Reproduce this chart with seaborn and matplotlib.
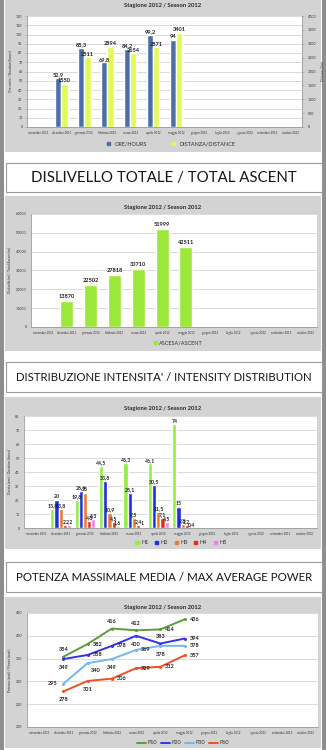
import numpy as np
import pandas as pd
import matplotlib
matplotlib.use("Agg")
import matplotlib.pyplot as plt
from matplotlib.patches import Rectangle
from matplotlib.lines import Line2D
import seaborn as sns

# ---- data -------------------------------------------------------------
mesi = ["novembre 2011", "dicembre 2011", "gennaio 2012", "febbraio 2012",
        "marzo 2012", "aprile 2012", "maggio 2012", "giugno 2012",
        "luglio 2012", "agosto 2012", "settembre 2012", "ottobre 2012"]
mesi_dati = mesi[1:7]

ore = [52.9, 85.3, 69.8, 84.2, 99.2, 94]
distanza = [1550, 2511, 2894, 2654, 2871, 3401]

ascesa = [13870, 22502, 27818, 30710, 51999, 42511]

h1 = [13.8, 19.8, 44.5, 46.3, 46.1, 74]
h2 = [20, 26.4, 33.8, 25.1, 30.5, 15]
h3 = [13.8, 25, 10.9, 7.5, 11.5, 2.8]
h4 = [2.0, 4.8, 4.5, 2.4, 7.1, 2.2]
h5 = [2.2, 6.3, 1.6, 1.0, 4.5, 0.4]

p10 = [354, 382, 416, 412, 414, 436]
p20 = [349, 358, 378, 400, 383, 394]
p30 = [295, 340, 349, 369, 378, 378]
p60 = [278, 301, 306, 329, 332, 357]

titolo = "Stagione 2012 / Season 2012"
intestazioni = ["DISLIVELLO TOTALE / TOTAL ASCENT",
                "DISTRIBUZIONE INTENSITA' / INTENSITY DISTRIBUTION",
                "POTENZA MASSIMALE MEDIA / MAX AVERAGE POWER"]

# ---- style --------------------------------------------------------------
sns.set_style("white")
plt.rcParams["font.family"] = ["Lato", "DejaVu Sans"]

W, H = 326, 750
fig = plt.figure(figsize=(W / 100, H / 100), dpi=100)
fig.patch.set_facecolor("white")


def fx(x):
    return x / W


def fy(y):
    return 1 - y / H


def rect_px(x0, y0, x1, y1, **kw):
    fig.patches.append(Rectangle((fx(x0), fy(y1)), (x1 - x0) / W, (y1 - y0) / H,
                                 transform=fig.transFigure, **kw))


def axes_px(x0, y0, x1, y1):
    ax = fig.add_axes([fx(x0), fy(y1), (x1 - x0) / W, (y1 - y0) / H])
    ax.set_zorder(5)
    return ax


def fmt(v):
    return ("%g" % v).replace(".", ",")


PANEL = "#d3d3d3"
GRID = "#d6d6d6"
TXT = "#303030"

# page frame and panel backgrounds
rect_px(0, 0, 4, H, facecolor="#8e8e8e", edgecolor="none", zorder=-2)
rect_px(322, 0, W, H, facecolor="#8e8e8e", edgecolor="none", zorder=-2)
for (y0, y1) in [(0, 152), (196, 351), (397, 549), (597, 748)]:
    rect_px(5, y0, 321, y1, facecolor=PANEL, edgecolor="none", zorder=-2)

# section headers
header_boxes = [(163, 192), (362, 392), (562, 592)]
header_widths = [265, 297, 298]
header_texts = []
for (y0, y1), txt in zip(header_boxes, intestazioni):
    rect_px(6, y0, 322, y1, facecolor="white", edgecolor="#9a9a9a",
            linewidth=0.8, zorder=-1)
    t = fig.text(fx(164), fy((y0 + y1) / 2 + 0.5), txt, ha="center", va="center",
                 fontsize=12, color="#161616", zorder=2)
    header_texts.append(t)


def style_axes(ax, ylim, step):
    ax.set_facecolor("white")
    ax.set_xlim(-0.5, 11.5)
    ax.set_ylim(*ylim)
    ax.set_yticks(np.arange(ylim[0], ylim[1] + step / 2, step))
    ax.yaxis.grid(True, color=GRID, linewidth=0.6)
    ax.set_axisbelow(True)
    for s in ["top", "right"]:
        ax.spines[s].set_visible(False)
    for s in ["left", "bottom"]:
        ax.spines[s].set_color("#9a9a9a")
        ax.spines[s].set_linewidth(0.6)
    ax.set_xticks(range(12))
    ax.set_xticklabels(mesi)
    ax.tick_params(axis="x", labelsize=2.1, colors="#9a9a9a", labelcolor=TXT,
                   length=1.2, width=0.4, pad=1.8)
    ax.tick_params(axis="y", labelsize=2.6, colors="#9a9a9a", labelcolor=TXT,
                   length=1.2, width=0.4, pad=2)
    ax.set_xlabel("")


def panel_title(y):
    fig.text(fx(163), fy(y), titolo, ha="center", va="center",
             fontsize=4.2, fontweight="bold", color="#262626")


# ---- panel 1: hours and distance -----------------------------------------
serie1 = ["ORE/HOURS", "DISTANZA/DISTANCE"]
col1 = {"ORE/HOURS": "#4d6ea8", "DISTANZA/DISTANCE": "#e2f95a"}
df_ore = pd.DataFrame({"mese": mesi_dati, "serie": serie1[0], "valore": ore})
df_dist = pd.DataFrame({"mese": mesi_dati, "serie": serie1[1], "valore": distanza})

ax1 = axes_px(27, 16, 302, 127)
sns.barplot(data=df_ore, x="mese", y="valore", hue="serie", hue_order=serie1,
            order=mesi, palette=col1, width=0.55, dodge=True, saturation=1,
            errorbar=None, legend=False, ax=ax1)
style_axes(ax1, (0, 120), 10)
ax1.set_ylabel("Ore nette / Duration (hours)", fontsize=2.4, color=TXT, labelpad=3)
ax1b = ax1.twinx()
ax1b.set_zorder(6)
sns.barplot(data=df_dist, x="mese", y="valore", hue="serie", hue_order=serie1,
            order=mesi, palette=col1, width=0.55, dodge=True, saturation=1,
            errorbar=None, legend=False, ax=ax1b)
ax1b.set_ylim(0, 4000)
ax1b.set_yticks(np.arange(0, 4001, 500))
ax1b.set_ylabel("Distanza (km)", fontsize=2.4, color=TXT, labelpad=3)
ax1b.tick_params(axis="y", labelsize=2.6, colors="#9a9a9a", labelcolor=TXT,
                 length=1.2, width=0.4, pad=3)
for s in ["top", "left", "bottom"]:
    ax1b.spines[s].set_visible(False)
ax1b.spines["right"].set_color("#9a9a9a")
ax1b.spines["right"].set_linewidth(0.6)
ax1b.set_xlabel("")
# hour labels are written on the upper (twin) axes so the distance bars
# do not cover them, but positioned in the hour axes' coordinates
for cont in ax1.containers:
    for bar, v in zip(cont.patches, cont.datavalues):
        ax1b.annotate(fmt(v), (bar.get_x() + bar.get_width() / 2, v),
                      xycoords=ax1.transData, xytext=(0, 0.5),
                      textcoords="offset points", ha="center", va="bottom",
                      fontsize=4.1, fontweight="bold", color="#202020")
for cont in ax1b.containers:
    ax1b.bar_label(cont, labels=[fmt(v) for v in cont.datavalues], fontsize=4.1,
                   fontweight="bold", color="#202020", padding=0.5)
panel_title(6)
fig.legend(handles=[Rectangle((0, 0), 1, 1, color=col1[s]) for s in serie1],
           labels=serie1, loc="center", bbox_to_anchor=(fx(171), fy(144)),
           ncol=2, frameon=False, fontsize=4, handlelength=0.6, handleheight=0.6,
           columnspacing=4.5, handletextpad=0.8, labelcolor=TXT)

# ---- panel 2: total ascent -----------------------------------------------
df_asc = pd.DataFrame({"mese": mesi_dati, "valore": ascesa})
ax2 = axes_px(31, 214, 317, 327)
sns.barplot(data=df_asc, x="mese", y="valore", order=mesi, color="#9ce83a",
            width=0.55, saturation=1, errorbar=None, ax=ax2)
style_axes(ax2, (0, 60000), 10000)
ax2.set_ylabel("Dislivello (m) / Total Ascent (m)", fontsize=2.4, color=TXT, labelpad=3)
for cont in ax2.containers:
    ax2.bar_label(cont, labels=[fmt(v) for v in cont.datavalues], fontsize=4.1,
                  fontweight="bold", color="#202020", padding=1.5)
panel_title(207)
fig.legend(handles=[Rectangle((0, 0), 1, 1, color="#9ce83a")],
           labels=["ASCESA/ASCENT"], loc="center", bbox_to_anchor=(fx(178), fy(343)),
           frameon=False, fontsize=4, handlelength=0.6, handleheight=0.6,
           handletextpad=0.3, labelcolor=TXT)

# ---- panel 3: intensity distribution -------------------------------------
serie3 = ["H1", "H2", "H3", "H4", "H5"]
col3 = {"H1": "#8ff03e", "H2": "#1f2fe0", "H3": "#ec7a2c", "H4": "#e2300f", "H5": "#f27ef2"}
df_int = pd.DataFrame({
    "mese": mesi_dati * 5,
    "serie": [s for s in serie3 for _ in mesi_dati],
    "valore": h1 + h2 + h3 + h4 + h5,
})
ax3 = axes_px(24, 416, 317, 528)
sns.barplot(data=df_int, x="mese", y="valore", hue="serie", hue_order=serie3,
            order=mesi, palette=col3, width=0.85, saturation=1, errorbar=None,
            legend=False, ax=ax3)
style_axes(ax3, (0, 80), 10)
ax3.set_ylabel("Durata (ore) / Duration (hours)", fontsize=2.4, color=TXT, labelpad=3)
for cont in ax3.containers:
    ax3.bar_label(cont, labels=[fmt(v) for v in cont.datavalues], fontsize=3.7,
                  fontweight="bold", color="#202020", padding=0.5)
panel_title(408)
fig.legend(handles=[Rectangle((0, 0), 1, 1, color=col3[s]) for s in serie3],
           labels=serie3, loc="center", bbox_to_anchor=(fx(181), fy(543)),
           ncol=5, frameon=False, fontsize=4, handlelength=0.6, handleheight=0.6,
           columnspacing=1.2, handletextpad=0.4, labelcolor=TXT)

# ---- panel 4: max average power ------------------------------------------
serie4 = ["P10", "P20", "P30", "P60"]
col4 = {"P10": "#5c9c3c", "P20": "#3434e4", "P30": "#72b6f2", "P60": "#ea5128"}
valori4 = {"P10": p10, "P20": p20, "P30": p30, "P60": p60}
df_pow = pd.DataFrame({
    "pos": [mesi.index(m) for _ in serie4 for m in mesi_dati],
    "serie": [s for s in serie4 for _ in mesi_dati],
    "watt": p10 + p20 + p30 + p60,
})
ax4 = axes_px(27, 613, 318, 727)
sns.lineplot(data=df_pow, x="pos", y="watt", hue="serie", hue_order=serie4,
             palette=col4, marker="o", markersize=2.2, markeredgewidth=0,
             linewidth=1.4, legend=False, ax=ax4)
style_axes(ax4, (200, 450), 50)
ax4.set_ylabel("Potenza (watt) / Power (watt)", fontsize=2.4, color=TXT, labelpad=3)

# where each value label sits relative to its point
lato = {
    "P10": ["up", "right", "up", "up", "right", "right"],
    "P20": ["down", "right", "right", "down", "up", "right"],
    "P30": ["left", "downright", "down", "right", "down", "right"],
    "P60": ["down", "down", "right", "right", "right", "right"],
}
offs = {"up": (0, 5), "down": (0, -6), "right": (7, 0), "left": (-8, 0),
        "downright": (6, -5)}
for s in serie4:
    for m, v, d in zip(mesi_dati, valori4[s], lato[s]):
        ax4.annotate(fmt(v), (mesi.index(m), v), xytext=offs[d],
                     textcoords="offset points", ha="center", va="center",
                     fontsize=4.0, fontweight="bold", color="#202020")
panel_title(607)
fig.legend(handles=[Line2D([0], [0], color=col4[s], lw=1.4) for s in serie4],
           labels=serie4, loc="center", bbox_to_anchor=(fx(183), fy(743)),
           ncol=4, frameon=False, fontsize=4, handlelength=1.6,
           columnspacing=0.8, handletextpad=0.2, labelcolor=TXT)

# fit header lettering to its box width
fig.canvas.draw()
rend = fig.canvas.get_renderer()
for t, w in zip(header_texts, header_widths):
    cur = t.get_window_extent(rend).width
    t.set_fontsize(t.get_fontsize() * w / cur)

fig.savefig("out.png", dpi=100, facecolor=fig.get_facecolor())
